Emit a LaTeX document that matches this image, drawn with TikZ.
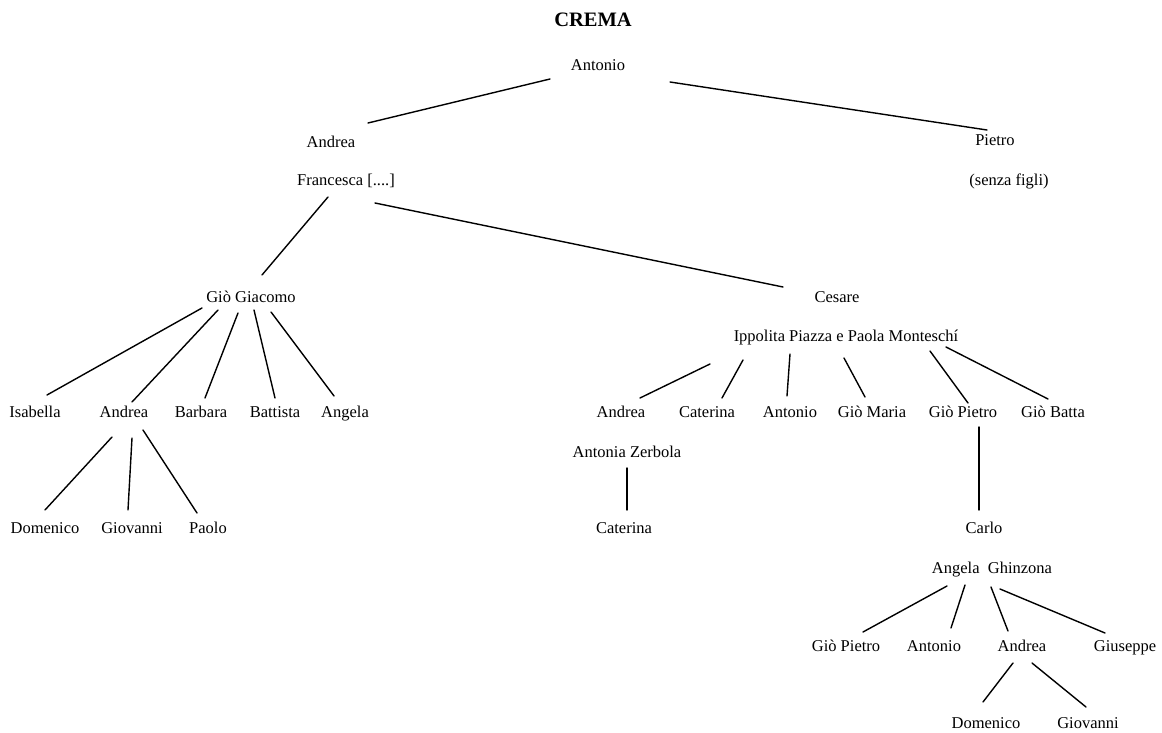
\documentclass[tikz,border=0pt]{standalone}
\usepackage{fontspec}
\setmainfont{Liberation Serif}
\usetikzlibrary{calc}
\begin{document}
\begin{tikzpicture}[x=1pt,y=-1pt,
  person/.style={inner sep=0pt, text height=13pt, text depth=2pt, font=\fontsize{16.5}{18}\selectfont},
  titlebox/.style={inner sep=0pt, text height=15pt, text depth=1.4pt, font=\fontsize{20.5}{24}\selectfont\bfseries},
  link/.style={line width=1.4pt, line cap=round}]
\useasboundingbox[fill=white] (0,0) rectangle (1162,733);

% nodes
\node[titlebox] (title) at (593,20) {CREMA};
\node[person] (ant)  at (598,65)  {Antonio};
\node[person] (andA) at (331,142) {Andrea};
\node[person] (pie)  at (995,140) {Pietro};
\node[person] (fra)  at (346,180) {Francesca [....]};
\node[person] (sen)  at (1009,180) {(senza figli)};
\node[person] (gg)   at (251,297) {Giò Giacomo};
\node[person] (ces)  at (837,297) {Cesare};
\node[person] (ipp)  at (846,336) {Ippolita Piazza e Paola Monteschí};
\node[person] (isa)  at (35,412)  {Isabella};
\node[person] (and1) at (124,412) {Andrea};
\node[person] (bar)  at (201,412) {Barbara};
\node[person] (bat)  at (275,412) {Battista};
\node[person] (ang)  at (345,412) {Angela};
\node[person] (dom1) at (45,528)  {Domenico};
\node[person] (gio1) at (132,528) {Giovanni};
\node[person] (pao)  at (208,528) {Paolo};
\node[person] (and2) at (621,412) {Andrea};
\node[person] (cat1) at (707,412) {Caterina};
\node[person] (ant2) at (790,412) {Antonio};
\node[person] (gm)   at (872,412) {Giò Maria};
\node[person] (gp1)  at (963,412) {Giò Pietro};
\node[person] (gb)   at (1053,412) {Giò Batta};
\node[person] (az)   at (627,452) {Antonia Zerbola};
\node[person] (cat2) at (624,528) {Caterina};
\node[person] (car)  at (984,528) {Carlo};
\node[person] (agh)  at (992,568) {Angela\hspace{0.5em}Ghinzona};
\node[person] (gp2)  at (846,646) {Giò Pietro};
\node[person] (ant3) at (934,646) {Antonio};
\node[person] (and3) at (1022,646) {Andrea};
\node[person] (giu)  at (1125,646) {Giuseppe};
\node[person] (dom2) at (986,723) {Domenico};
\node[person] (gio2) at (1088,723) {Giovanni};

% connectors
\draw[link] ($(ant)+(-48,14)$) -- ($(andA)+(37,-19)$);
\draw[link] ($(ant)+(72,17)$) -- ($(pie)+(-8,-10)$);
\draw[link] ($(fra)+(-18,17)$) -- ($(gg)+(11,-22)$);
\draw[link] ($(fra)+(29,23)$) -- ($(ces)+(-54,-10)$);

\draw[link] ($(gg)+(-49,11)$) -- ($(isa)+(12,-17)$);
\draw[link] ($(gg)+(-33,13)$) -- ($(and1)+(8,-10)$);
\draw[link] ($(gg)+(-13,16)$) -- ($(bar)+(4,-14)$);
\draw[link] ($(gg)+(3,13)$) -- ($(bat)+(0,-14)$);
\draw[link] ($(gg)+(20,15)$) -- ($(ang)+(-11,-16)$);

\draw[link] ($(and1)+(-12,25)$) -- ($(dom1)+(0,-18)$);
\draw[link] ($(and1)+(8,26)$) -- ($(gio1)+(-4,-18)$);
\draw[link] ($(and1)+(19,18)$) -- ($(pao)+(-11,-15)$);

\draw[link] ($(ipp)+(-136,28)$) -- ($(and2)+(19,-14)$);
\draw[link] ($(ipp)+(-103,24)$) -- ($(cat1)+(15,-14)$);
\draw[link] ($(ipp)+(-56,18)$) -- ($(ant2)+(-3,-16)$);
\draw[link] ($(ipp)+(-2,22)$) -- ($(gm)+(-7,-15)$);
\draw[link] ($(ipp)+(84,15)$) -- ($(gp1)+(5,-9)$);
\draw[link] ($(ipp)+(100,11)$) -- ($(gb)+(-5,-13)$);

\draw[link] ($(az)+(0,16)$) -- ($(cat2)+(3,-18)$);
\draw[link] ($(gp1)+(16,15)$) -- ($(car)+(-5,-18)$);

\draw[link] ($(agh)+(-45,18)$) -- ($(gp2)+(17,-14)$);
\draw[link] ($(agh)+(-27,17)$) -- ($(ant3)+(17,-18)$);
\draw[link] ($(agh)+(-1,19)$) -- ($(and3)+(-14,-15)$);
\draw[link] ($(agh)+(8,21)$) -- ($(giu)+(-20,-13)$);

\draw[link] ($(and3)+(-9,17)$) -- ($(dom2)+(-3,-21)$);
\draw[link] ($(and3)+(10,17)$) -- ($(gio2)+(-2,-16)$);
\end{tikzpicture}
\end{document}
